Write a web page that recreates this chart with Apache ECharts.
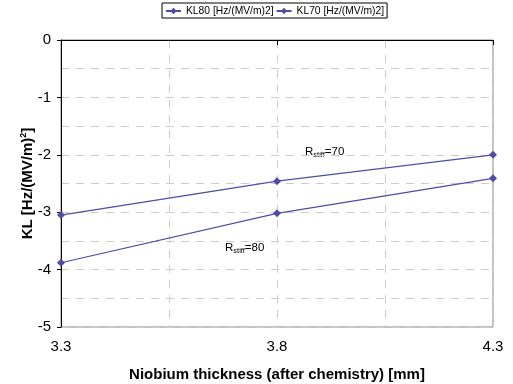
<!DOCTYPE html>
<html><head><meta charset="utf-8">
<script src="https://cdn.jsdelivr.net/npm/echarts@6/dist/echarts.min.js"></script>
<style>html,body{margin:0;padding:0;background:#fff}#c{width:513px;height:384px}</style>
</head><body><div id="c"></div>
<script>
const xCategories = ['3.3', '3.55', '3.8', '4.05', '4.3'];
const xLabels = ['3.3', '3.8', '4.3'];
const thickness = ['3.3', '3.8', '4.3'];
const kl80 = [-3.88, -3.02, -2.41];
const kl70 = [-3.05, -2.46, -2.0];
const seriesNames = ['KL80 [Hz/(MV/m)2]', 'KL70 [Hz/(MV/m)2]'];

const FONT = 'Liberation Sans';
const COLOR = '#4d4da8';
const GRID = '#cfcbc7';
const chart = echarts.init(document.getElementById('c'), null, {renderer: 'canvas'});
function pairs(vals) { return thickness.map((x, i) => [x, vals[i]]); }
const annRich = {
  r: {fontSize: 11.5, fill: '#000', fontFamily: FONT},
  s: {fontSize: 7.5, fill: '#000', fontFamily: FONT, padding: [5, 0, 0, 0]}
};
const option = {
  animation: false,
  textStyle: {fontFamily: FONT},
  legend: {
    left: 162, top: 3,
    data: seriesNames,
    itemWidth: 15, itemHeight: 8, itemGap: 2,
    padding: [3, 3, 2, 3],
    borderColor: '#000', borderWidth: 1,
    textStyle: {fontSize: 10.3, color: '#000', fontFamily: FONT}
  },
  grid: {left: 61, right: 20, top: 40, bottom: 57, containLabel: false, outerBoundsMode: 'none',
         show: true, borderColor: '#8a8582', borderWidth: 1, backgroundColor: 'transparent'},
  xAxis: {
    type: 'category', data: xCategories, boundaryGap: false,
    name: 'Niobium thickness (after chemistry) [mm]', nameLocation: 'middle', nameGap: 40,
    nameMoveOverlap: false,
    nameTextStyle: {fontSize: 15, fontWeight: 'bold', color: '#000', fontFamily: FONT},
    axisLine: {lineStyle: {color: '#000', width: 1}},
    axisTick: {show: true, length: 5, lineStyle: {color: '#000'}, interval: (i, v) => xLabels.includes(v)},
    axisLabel: {interval: 0, fontSize: 15, color: '#000', margin: 12, formatter: v => xLabels.includes(v) ? v : ''},
    splitLine: {show: true, interval: 0, lineStyle: {color: GRID, type: [8, 7], width: 1}}
  },
  yAxis: {
    type: 'value', min: -5, max: 0, interval: 1,
    name: '{b|KL [Hz/(MV/m)}{s|2}{b|]}', nameLocation: 'middle', nameGap: 25, nameRotate: 90,
    nameMoveOverlap: false,
    nameTextStyle: {rich: {
      b: {fontSize: 15, fontWeight: 'bold', color: '#000', fontFamily: FONT},
      s: {fontSize: 9, fontWeight: 'bold', color: '#000', fontFamily: FONT, verticalAlign: 'top', padding: [0, 0, 8, 0]}
    }},
    axisLine: {show: true, lineStyle: {color: '#000', width: 1}},
    axisTick: {show: true, length: 4, lineStyle: {color: '#000'}},
    axisLabel: {fontSize: 15, color: '#000', margin: 10},
    splitLine: {show: true, lineStyle: {color: GRID, type: [8, 7], width: 1}},
    minorTick: {show: false, splitNumber: 2},
    minorSplitLine: {show: true, lineStyle: {color: GRID, type: [8, 7], width: 1}}
  },
  series: [
    {name: seriesNames[0], type: 'line', data: pairs(kl80), symbol: 'diamond', symbolSize: 8,
     lineStyle: {color: COLOR, width: 1.2}, itemStyle: {color: COLOR}},
    {name: seriesNames[1], type: 'line', data: pairs(kl70), symbol: 'diamond', symbolSize: 8,
     lineStyle: {color: COLOR, width: 1.2}, itemStyle: {color: COLOR}}
  ],
  graphic: [
    {type: 'text', left: 305, top: 146, style: {text: '{r|R}{s|stiff}{r|=70}', rich: annRich}},
    {type: 'text', left: 225, top: 242, style: {text: '{r|R}{s|stiff}{r|=80}', rich: annRich}}
  ]
};
chart.setOption(option);
</script></body></html>
